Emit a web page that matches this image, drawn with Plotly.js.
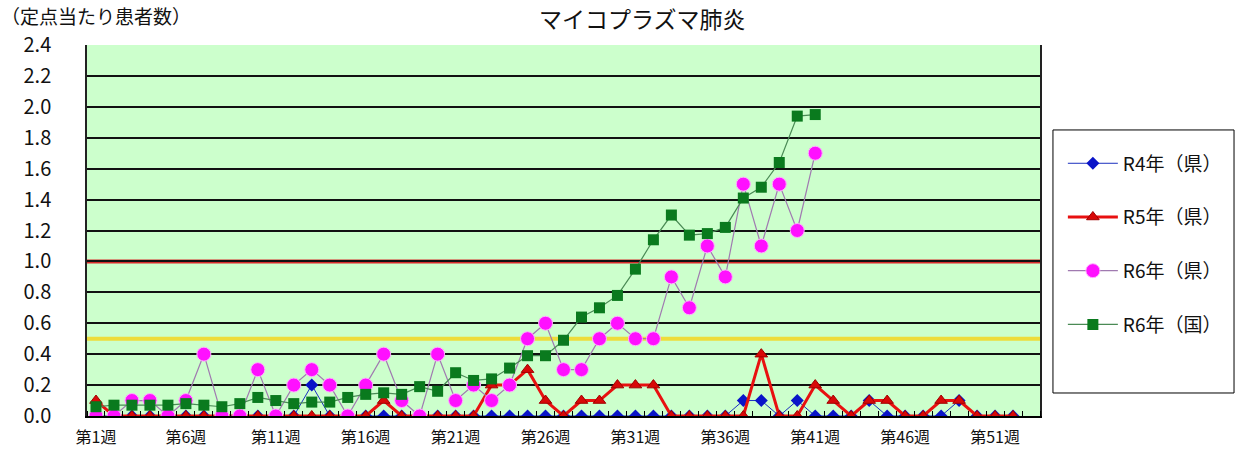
<!DOCTYPE html>
<html>
<head>
<meta charset="utf-8">
<script src="https://cdn.plot.ly/plotly-3.0.1.min.js"></script>
<style>html,body{margin:0;padding:0;background:#fff;}#chart{width:1240px;height:465px;}</style>
</head>
<body>
<div id="chart"></div>
<script>
// ---- data ----
const weeks = Array.from({length: 52}, (_, i) => i + 1);
const weeksR6 = weeks.slice(0, 41);
const seriesNames = ['R4年（県）', 'R5年（県）', 'R6年（県）', 'R6年（国）'];
const r4Pref = [0,0,0,0,0,0,0,0,0,0, 0,0,0.2,0,0,0,0,0,0,0, 0,0,0,0,0,0,0,0,0,0, 0,0,0,0,0,0,0.1,0.1,0,0.1, 0,0,0,0.1,0,0,0,0,0.1,0, 0,0];
const r5Pref = [0.1,0,0,0,0,0,0,0,0,0, 0,0,0,0,0,0,0.1,0,0,0, 0,0,0.2,0.2,0.3,0.1,0,0.1,0.1,0.2, 0.2,0.2,0,0,0,0,0,0.4,0,0, 0.2,0.1,0,0.1,0.1,0,0,0.1,0.1,0, 0,0];
const r6Pref = [0,0,0.1,0.1,0,0.1,0.4,0,0,0.3, 0,0.2,0.3,0.2,0,0.2,0.4,0.1,0,0.4, 0.1,0.2,0.1,0.2,0.5,0.6,0.3,0.3,0.5,0.6, 0.5,0.5,0.9,0.7,1.1,0.9,1.5,1.1,1.5,1.2, 1.7];
const r6Nat = [0.06,0.07,0.07,0.07,0.07,0.08,0.07,0.06,0.08,0.12, 0.10,0.08,0.09,0.09,0.12,0.14,0.15,0.14,0.19,0.16, 0.28,0.23,0.24,0.31,0.39,0.39,0.49,0.64,0.70,0.78, 0.95,1.14,1.30,1.17,1.18,1.22,1.41,1.48,1.64,1.94, 1.95];
const tickWeeks = [1,6,11,16,21,26,31,36,41,46,51];
const tickLabels = tickWeeks.map(w => '第' + w + '週');
const yTicks = [0,0.2,0.4,0.6,0.8,1.0,1.2,1.4,1.6,1.8,2.0,2.2,2.4];
const thresholds = [1.0, 0.5];
const totalSlots = 53;

const FONT = '"Noto Sans CJK JP", "Noto Sans", sans-serif';

const traces = [
  {x: weeks, y: r4Pref, name: seriesNames[0], type: 'scatter', mode: 'lines+markers', legendgroup: 'a',
   line: {color: '#1a2fbf', width: 1}, marker: {symbol: 'diamond', size: 10, color: '#0a14c8'}},
  {x: weeks, y: r5Pref, name: seriesNames[1], type: 'scatter', mode: 'lines+markers', legendgroup: 'b',
   line: {color: '#e81010', width: 3}, marker: {symbol: 'triangle-up', size: 11, color: '#d80808', line: {color: '#a00000', width: 1}}},
  {x: weeksR6, y: r6Pref, name: seriesNames[2], type: 'scatter', mode: 'lines+markers', legendgroup: 'c',
   line: {color: '#a07ab0', width: 1.2}, marker: {symbol: 'circle', size: 14, color: '#ff10ff', line: {color: '#ffb0ff', width: 1}}},
  {x: weeksR6, y: r6Nat, name: seriesNames[3], type: 'scatter', mode: 'lines+markers', legendgroup: 'd',
   line: {color: '#4a8a55', width: 1.2}, marker: {symbol: 'square', size: 11, color: '#0a7a1e'}}
];

const shapes = [
  {type: 'line', xref: 'paper', x0: 0, x1: 1.002, yref: 'y', y0: thresholds[0], y1: thresholds[0], line: {color: '#d82a2a', width: 4}, layer: 'below'},
  {type: 'line', xref: 'paper', x0: 0, x1: 1.002, yref: 'y', y0: thresholds[1], y1: thresholds[1], line: {color: '#eedc3a', width: 4}, layer: 'below'},
  {type: 'rect', xref: 'paper', yref: 'paper', x0: 1.0136, x1: 1.2036, y0: 0.062, y1: 0.771, line: {color: '#000', width: 1}, fillcolor: 'rgba(0,0,0,0)'}
];

const layout = {
  width: 1240, height: 465,
  margin: {l: 87, r: 200, t: 45, b: 49},
  paper_bgcolor: '#ffffff',
  plot_bgcolor: '#ccffcc',
  font: {family: FONT, color: '#000'},
  title: {text: 'マイコプラズマ肺炎', font: {family: FONT, size: 23, color: '#111'}, x: 0.518, xref: 'container', xanchor: 'center', y: 0.957, yref: 'container', yanchor: 'middle'},
  showlegend: true,
  legend: {x: 1.024, xanchor: 'left', y: 0.732, yanchor: 'top', traceorder: 'grouped', tracegroupgap: 26,
           font: {family: FONT, size: 19, color: '#111'}, bgcolor: 'rgba(0,0,0,0)', borderwidth: 0, itemwidth: 50},
  xaxis: {
    range: [0.5, totalSlots + 0.5], tickmode: 'array', tickvals: tickWeeks, ticktext: tickLabels,
    ticks: '', showgrid: false, zeroline: false, showline: true, linecolor: '#000', linewidth: 2, mirror: false,
    ticklabelstandoff: 6,
    tickfont: {family: FONT, size: 16, color: '#111'},
    minor: {tickmode: 'array', tickvals: Array.from({length: totalSlots + 1}, (_, i) => i + 0.5), ticks: 'inside', ticklen: 5, tickcolor: '#000', tickwidth: 1, showgrid: false}
  },
  yaxis: {
    range: [0, 2.4], tickmode: 'array', tickvals: yTicks, ticktext: yTicks.map(v => v.toFixed(1)),
    showgrid: true, gridcolor: '#111', gridwidth: 1.5, zeroline: false, showline: true, linecolor: '#222', linewidth: 1.5, mirror: true,
    ticks: '', ticklabelstandoff: 30, tickfont: {family: FONT, size: 20, color: '#111'}
  },
  shapes: shapes,
  annotations: [
    {text: '（定点当たり患者数）', xref: 'paper', yref: 'paper', x: -0.092, y: 1.079, xanchor: 'left', yanchor: 'middle', showarrow: false, font: {family: FONT, size: 19, color: '#111'}}
  ]
};

Plotly.newPlot('chart', traces, layout, {displayModeBar: false, responsive: false});
</script>
</body>
</html>
